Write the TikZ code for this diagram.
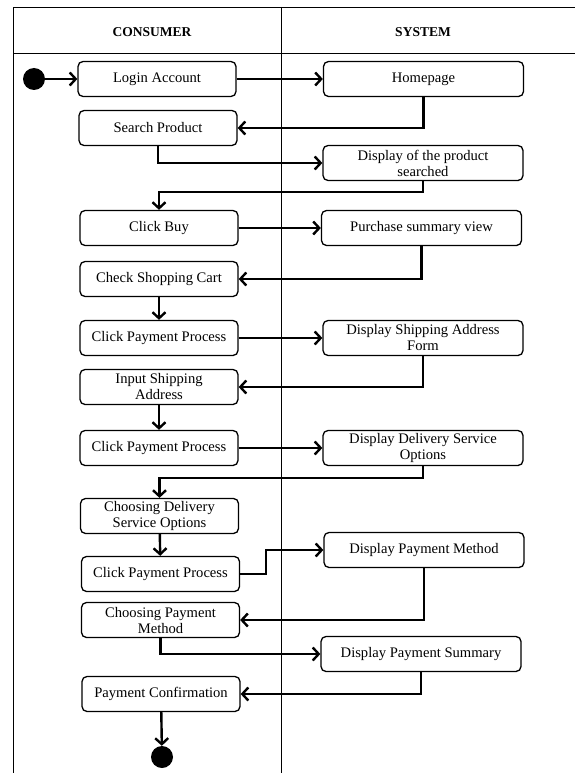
\documentclass[tikz,border=0pt]{standalone}
\usepackage{fontspec}
\setmainfont{Liberation Serif}
\usetikzlibrary{arrows.meta}

\begin{document}
\begin{tikzpicture}[x=1pt,y=-1pt,>={Straight Barb[length=6pt,width=13pt]},
  act/.style={draw,line width=1.3pt,rounded corners=5pt,minimum width=158pt,minimum height=35pt,align=center,inner sep=1pt,font=\fontsize{14.6}{16}\selectfont},
  sys/.style={act,minimum width=200pt},
  flow/.style={->,line width=2.4pt},
  bullet/.style={circle,fill,inner sep=0pt,minimum size=22pt}]
\useasboundingbox (0,0) rectangle (575,773);

\draw[line width=0.8pt] (13,773) -- (13,7) -- (575,7);
\draw[line width=0.8pt] (13,53) -- (575,53);
\draw[line width=0.8pt] (281,7) -- (281,773);
\node[font=\bfseries\fontsize{13.5}{15}\selectfont] (consumer) at (152,32) {CONSUMER};
\node[font=\bfseries\fontsize{13.5}{15}\selectfont] (system) at (423,32) {SYSTEM};

\node[bullet] (start) at (34,79) {};
\node[act] (login) at (157,79) {Login Account};
\node[sys] (home) at (423.5,79) {Homepage};
\node[act] (search) at (158,128) {Search Product};
\node[sys] (result) at (423,163) {Display of the product\\searched};
\node[act] (buy) at (159,228) {Click Buy};
\node[sys] (summary) at (421.5,228) {Purchase summary view};
\node[act] (cart) at (159,279) {Check Shopping Cart};
\node[act] (pay1) at (159,338) {Click Payment Process};
\node[sys] (shipform) at (423,338) {Display Shipping Address\\Form};
\node[act] (shipinput) at (159,387) {Input Shipping\\Address};
\node[act] (pay2) at (159,448) {Click Payment Process};
\node[sys] (delivopts) at (423,448) {Display Delivery Service\\Options};
\node[act] (choosedeliv) at (159.5,516) {Choosing Delivery\\Service Options};
\node[act] (pay3) at (160.5,574) {Click Payment Process};
\node[sys] (paymethod) at (424,550) {Display Payment Method};
\node[act] (choosepay) at (160.5,620) {Choosing Payment\\Method};
\node[sys] (paysummary) at (421,654) {Display Payment Summary};
\node[act] (confirm) at (161,694) {Payment Confirmation};
\node[bullet] (stop) at (162,757) {};

\draw[flow] (start) -- (login);
\draw[flow] (login) -- (home);
\draw[flow] (home.south) |- (search.east);
\draw[flow] (search.south) |- (result.west);
\draw[flow] (result.south) -- ++(0,11) -| (buy.north);
\draw[flow] (buy) -- (summary);
\draw[flow] (summary.south) |- (cart.east);
\draw[flow] (cart) -- (pay1);
\draw[flow] (pay1) -- (shipform);
\draw[flow] (shipform.south) |- (shipinput.east);
\draw[flow] (shipinput) -- (pay2);
\draw[flow] (pay2) -- (delivopts);
\draw[flow] (delivopts.south) -- ++(0,12) -| (choosedeliv.north);
\draw[flow] (choosedeliv) -- (pay3);
\draw[flow] (pay3.east) -- ++(26,0) |- (paymethod.west);
\draw[flow] (paymethod.south) |- (choosepay.east);
\draw[flow] (choosepay.south) |- (paysummary.west);
\draw[flow] (paysummary.south) |- (confirm.east);
\draw[flow] (confirm) -- (stop);
\end{tikzpicture}
\end{document}
